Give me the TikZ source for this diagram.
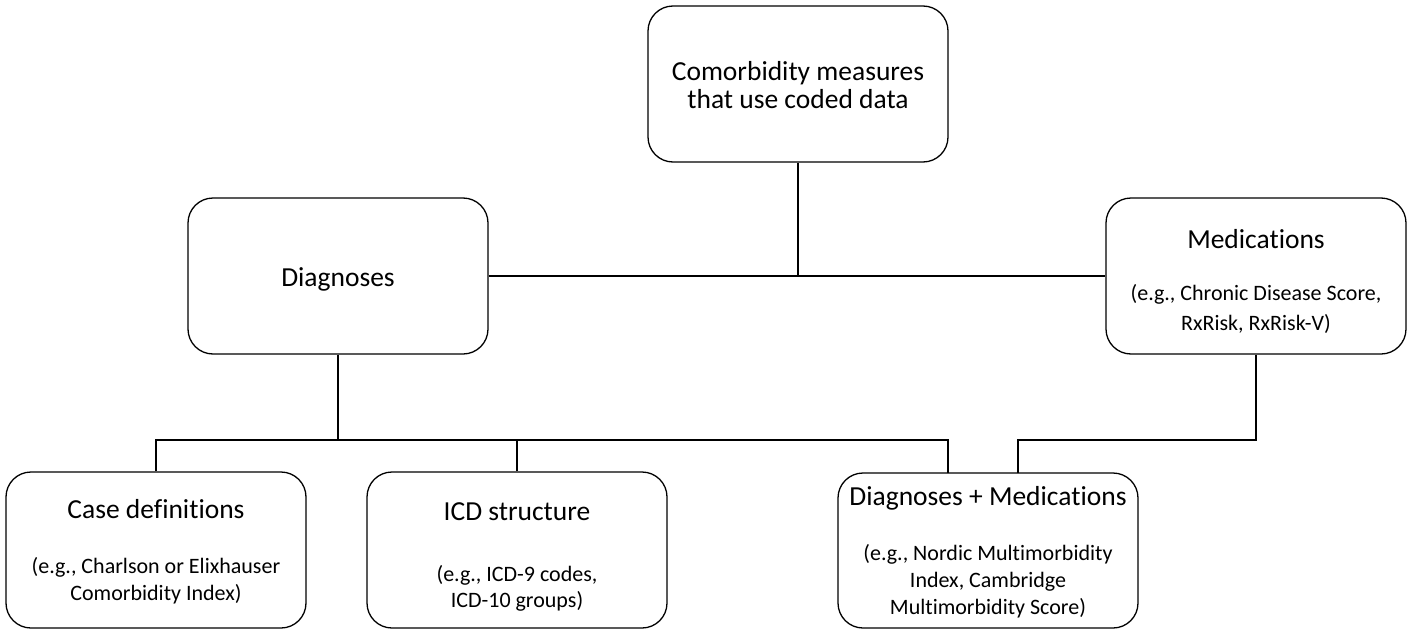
\documentclass[tikz,border=0pt]{standalone}
\usepackage{fontspec}
\setmainfont{Carlito}[Ligatures={NoCommon}]
\usetikzlibrary{calc}
\begin{document}
\begin{tikzpicture}[x=1pt,y=-1pt,
  box/.style={draw, line width=1.3pt, rounded corners=25pt, minimum width=300pt, minimum height=156pt, inner sep=0pt},
  title/.style={anchor=base, font=\fontsize{27.5}{33}\selectfont, inner sep=0pt},
  eg/.style={anchor=base, font=\fontsize{22}{26}\selectfont, inner sep=0pt},
  conn/.style={line width=1.3pt}]
\useasboundingbox (0,0) rectangle (1414,637);
% boxes
\node[box] (top) at (798,84) {};
\node[box] (diag) at (338,276) {};
\node[box] (med) at (1256,276) {};
\node[box] (case) at (156,550) {};
\node[box] (icd) at (517,550) {};
\node[box, minimum height=155pt] (dm) at (988,550.5) {};
% texts
\node[title] (top1) at (798,80) {Comorbidity measures};
\node[title] (top2) at (798,108) {that use coded data};
\node[title] (diagt) at (338,286) {Diagnoses};
\node[title] (medt) at (1256,248) {Medications};
\node[eg] (med1) at (1256,300) {(e.g., Chronic Disease Score,};
\node[eg] (med2) at (1256,330) {RxRisk, RxRisk-V)};
\node[title] (caset) at (156,518) {Case definitions};
\node[eg] (case1) at (156,573) {(e.g., Charlson or Elixhauser};
\node[eg] (case2) at (156,600) {Comorbidity Index)};
\node[title] (icdt) at (517,520) {ICD structure};
\node[eg] (icd1) at (517,581) {(e.g., ICD-9 codes,};
\node[eg] (icd2) at (517,607) {ICD-10 groups)};
\node[title] (dmt) at (988,505) {Diagnoses + Medications};
\node[eg] (dm1) at (988,560) {(e.g., Nordic Multimorbidity};
\node[eg] (dm2) at (988,587) {Index, Cambridge};
\node[eg] (dm3) at (988,614) {Multimorbidity Score)};
% coordinates
\coordinate (bus) at (0,440);
\coordinate (dmL) at (948,473);
\coordinate (dmR) at (1018,473);
% connectors
\draw[conn] (diag.east) -- (med.west);
\draw[conn] (top.south) -- (top.south |- diag.east);
\draw[conn] (diag.south) -- (diag.south |- bus);
\draw[conn] (case.north) -- (case.north |- bus) -- (dmL |- bus) -- (dmL);
\draw[conn] (icd.north) -- (icd.north |- bus);
\draw[conn] (med.south) -- (med.south |- bus) -- (dmR |- bus) -- (dmR);
\end{tikzpicture}
\end{document}
